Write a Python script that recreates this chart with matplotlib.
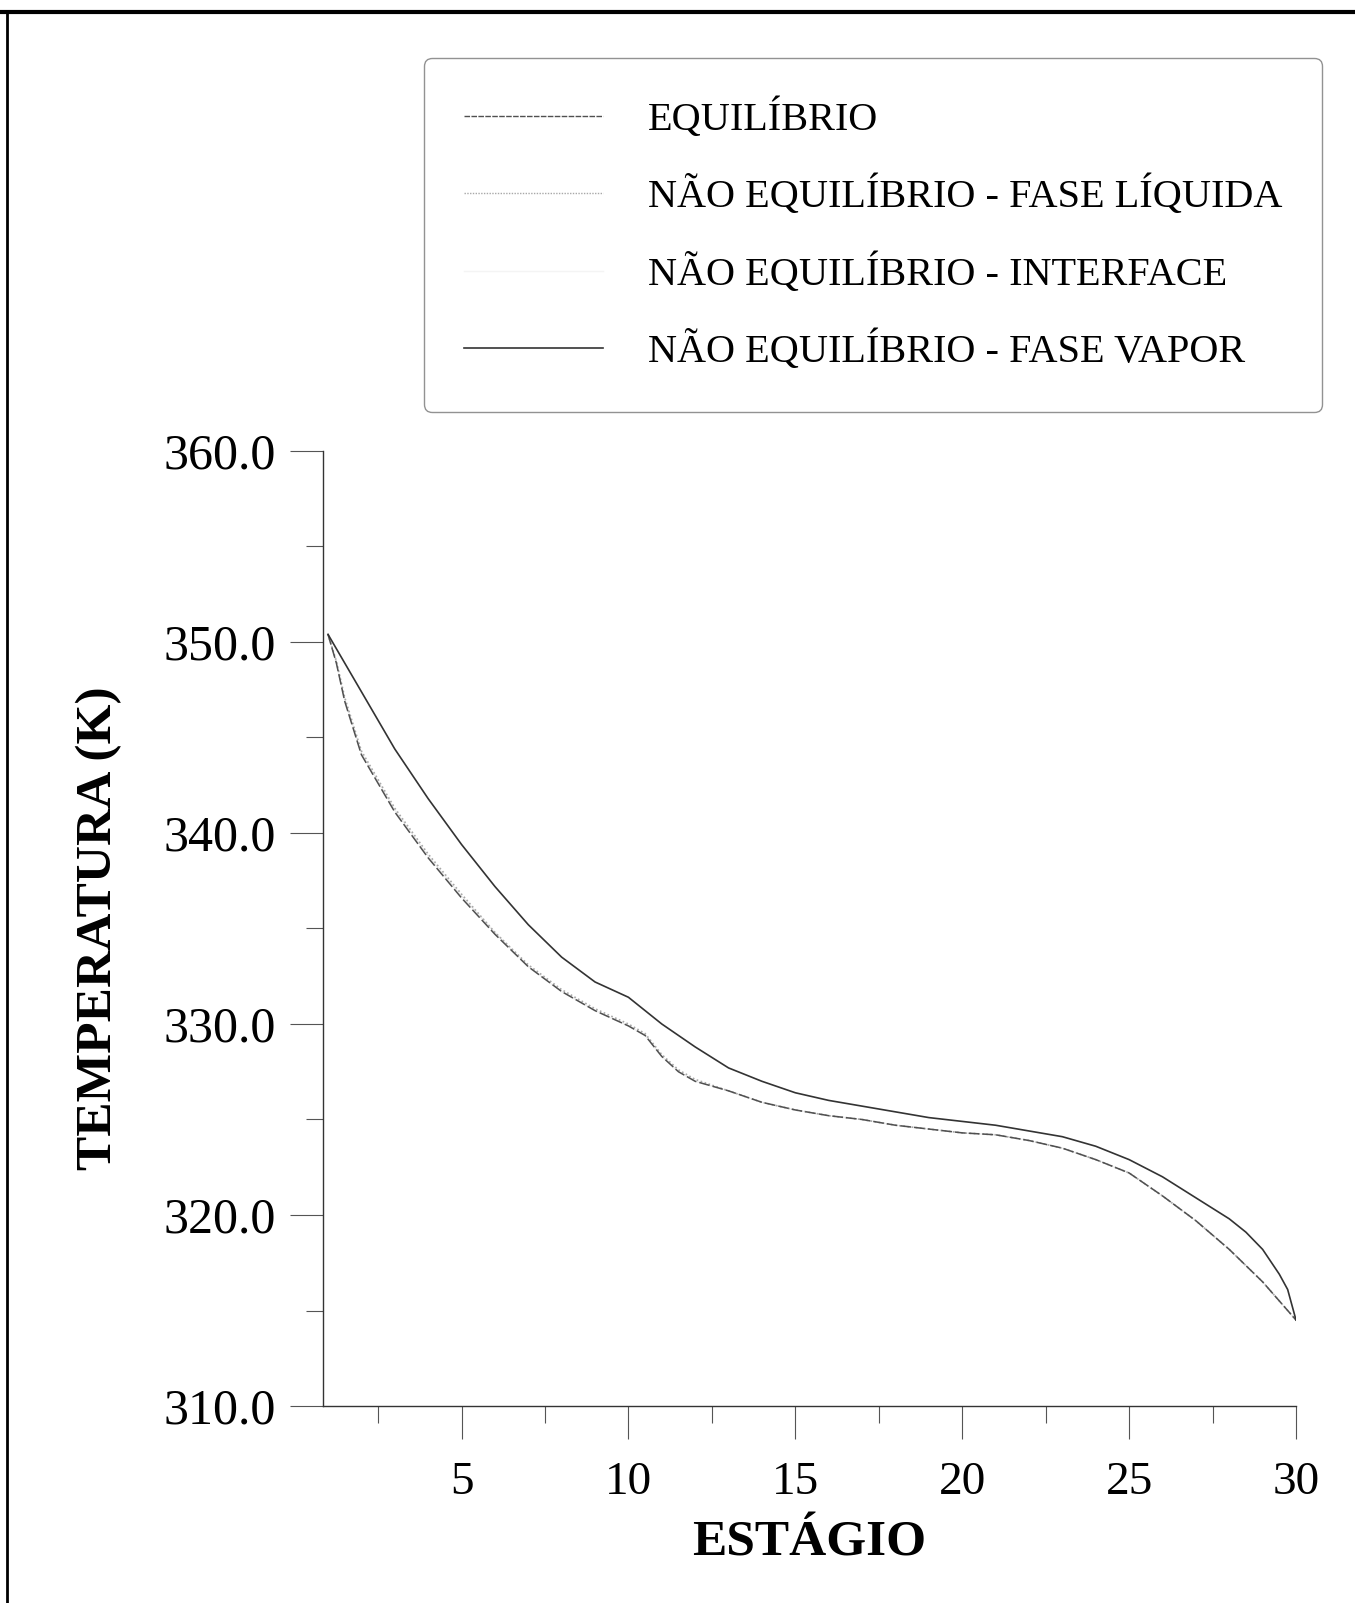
import numpy as np
import matplotlib
matplotlib.use("Agg")
import matplotlib.pyplot as plt
from matplotlib.ticker import MultipleLocator, FormatStrFormatter
from matplotlib.lines import Line2D

plt.rcParams['font.family'] = ['Liberation Serif', 'DejaVu Serif']

# ---- data ----
estagio_v = [1, 2, 3, 4, 5, 6, 7, 8, 9, 10, 11, 12, 13, 14, 15,
             16, 17, 18, 19, 20, 21, 22, 23, 24, 25, 26, 27, 28, 28.5, 29, 29.5, 29.75, 30]
t_vapor = [350.4, 347.4, 344.4, 341.8, 339.4, 337.2, 335.2, 333.5, 332.2, 331.4,
           330.0, 328.8, 327.7, 327.0, 326.4, 326.0, 325.7, 325.4, 325.1, 324.9,
           324.7, 324.4, 324.1, 323.6, 322.9, 322.0, 320.9, 319.8, 319.1, 318.2,
           316.9, 316.1, 314.5]

estagio_l = [1, 1.25, 1.5, 2, 3, 4, 5, 6, 7, 8, 9, 10, 10.5, 11, 11.5, 12, 13, 14, 15,
             16, 17, 18, 19, 20, 21, 22, 23, 24, 25, 26, 27, 28, 29, 30]
t_equil = [350.4, 348.9, 346.9, 344.1, 341.1, 338.7, 336.6, 334.7, 333.0, 331.7, 330.7,
           329.9, 329.4, 328.3, 327.5, 327.0, 326.5, 325.9, 325.5, 325.2, 325.0, 324.7,
           324.5, 324.3, 324.2, 323.9, 323.5, 322.9, 322.2, 321.0, 319.7, 318.2, 316.5,
           314.5]
t_liquido = [350.4, 349.0, 347.1, 344.3, 341.3, 338.9, 336.8, 334.8, 333.1, 331.8, 330.8,
             330.0, 329.5, 328.4, 327.6, 327.1, 326.5, 325.9, 325.5, 325.2, 325.0, 324.7,
             324.5, 324.3, 324.2, 323.9, 323.5, 322.9, 322.2, 321.0, 319.7, 318.2, 316.5,
             314.5]
t_interface = [350.4, 348.9, 347.0, 344.2, 341.2, 338.8, 336.7, 334.8, 333.0, 331.7, 330.7,
               329.9, 329.4, 328.3, 327.5, 327.0, 326.5, 325.9, 325.5, 325.2, 325.0, 324.7,
               324.5, 324.3, 324.2, 323.9, 323.5, 322.9, 322.2, 321.0, 319.7, 318.2, 316.5,
               314.5]

labels = ["EQUILÍBRIO",
          "NÃO EQUILÍBRIO - FASE LÍQUIDA",
          "NÃO EQUILÍBRIO - INTERFACE",
          "NÃO EQUILÍBRIO - FASE VAPOR"]

W, H = 1355, 1603
fig = plt.figure(figsize=(W / 100, H / 100), dpi=100)
ax = fig.add_axes([323 / W, 1 - 1406 / H, (1296 - 323) / W, (1406 - 451) / H])

# interface curve is drawn very light (barely visible in the original)
ax.plot(estagio_l, t_interface, color="#eeeeee", lw=1.0, zorder=1)
ax.plot(estagio_l, t_liquido, color="#a8a8a8", lw=1.2, linestyle=(0, (1, 1.5)), zorder=2)
ax.plot(estagio_l, t_equil, color="#505050", lw=1.1, linestyle=(0, (7, 2)), zorder=3)
ax.plot(estagio_v, t_vapor, color="#333333", lw=1.2, zorder=4)

ax.set_xlim(0.85, 30)
ax.set_ylim(310, 360)

ax.xaxis.set_major_locator(MultipleLocator(5))
ax.xaxis.set_minor_locator(MultipleLocator(2.5))
ax.yaxis.set_major_locator(MultipleLocator(10))
ax.yaxis.set_minor_locator(MultipleLocator(5))
ax.yaxis.set_major_formatter(FormatStrFormatter("%.1f"))

for side in ("top", "right"):
    ax.spines[side].set_visible(False)
for side in ("left", "bottom"):
    ax.spines[side].set_linewidth(1.0)
    ax.spines[side].set_color("#333333")

ax.tick_params(axis="both", which="major", direction="out", length=24, width=0.8,
               color="#555555", labelsize=34)
ax.tick_params(axis="y", which="major", labelsize=36)
ax.tick_params(axis="both", which="minor", direction="out", length=12, width=0.8,
               color="#555555")
ax.tick_params(axis="x", which="major", pad=16)
ax.tick_params(axis="y", which="major", pad=10)

ax.set_xlabel("ESTÁGIO", fontsize=37, fontweight="bold", labelpad=12)
ax.set_ylabel("TEMPERATURA (K)", fontsize=37, fontweight="bold", labelpad=30)

# legend
handles = [
    Line2D([], [], color="#505050", lw=1.0, linestyle=(0, (4, 1))),
    Line2D([], [], color="#a8a8a8", lw=1.0, linestyle=(0, (1, 1))),
    Line2D([], [], color="#f4f4f4", lw=1.0),
    Line2D([], [], color="#333333", lw=1.2),
]
leg = fig.legend(handles, labels, loc="upper left",
                 bbox_to_anchor=(424 / W, 1 - 58 / H), bbox_transform=fig.transFigure,
                 fontsize=29, frameon=True, fancybox=True, borderaxespad=0,
                 handlelength=3.45, handletextpad=1.1, labelspacing=0.92,
                 borderpad=1.0)
leg.get_frame().set_edgecolor("#777777")
leg.get_frame().set_linewidth(1.0)

# scanned page border (top and left)
fig.add_artist(Line2D([0, 1], [1 - 12 / H, 1 - 12 / H], transform=fig.transFigure,
                      color="black", lw=3))
fig.add_artist(Line2D([7 / W, 7 / W], [0, 1 - 12 / H], transform=fig.transFigure,
                      color="black", lw=2))

fig.savefig("out.png", dpi=100)
